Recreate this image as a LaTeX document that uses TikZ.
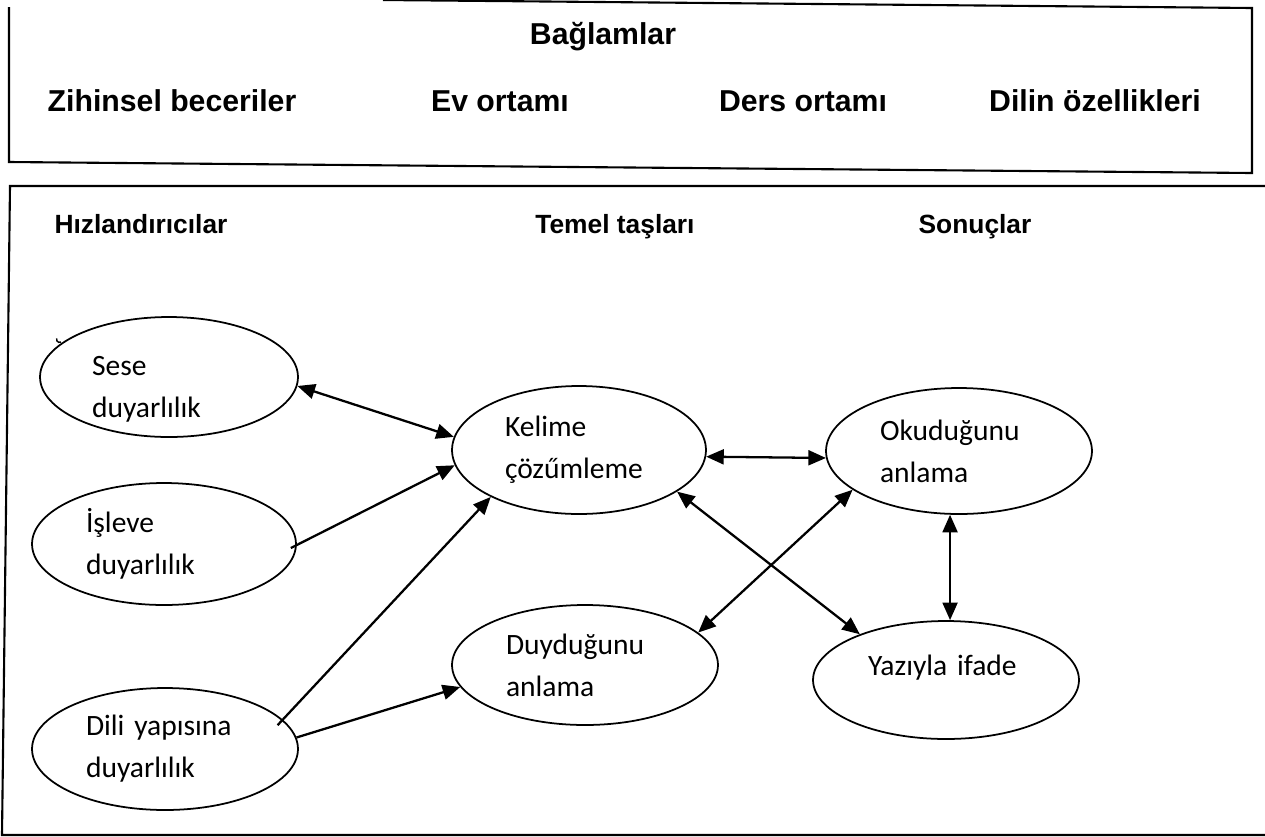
\documentclass[tikz,border=0pt]{standalone}
\usepackage{fontspec}
\setmainfont{Carlito}
\newfontfamily\headfont{Liberation Sans}
\usetikzlibrary{shapes.geometric,arrows.meta}

\begin{document}
\begin{tikzpicture}[x=0.02cm, y=-0.02cm,
  oval/.style={draw, ellipse, line width=1pt, inner sep=0pt, align=left,
    font=\fontsize{16.8}{23.8}\selectfont},
  head/.style={anchor=base, font=\headfont\bfseries\fontsize{17.2}{20}\selectfont},
  subhead/.style={anchor=base, font=\headfont\bfseries\fontsize{15}{18}\selectfont},
  arr/.style={-{Triangle[length=10pt,width=8.5pt]}, line width=1.3pt},
  darr/.style={{Triangle[length=10pt,width=8.5pt]}-{Triangle[length=10pt,width=8.5pt]}, line width=1.3pt}]
\useasboundingbox (0,0) rectangle (1265,836);

\draw[line width=1.2pt] (383,0) -- (1252,8) -- (1252,173) -- (9,162) -- (9,7);
\draw[line width=1.2pt] (1265,186) -- (10,186) -- (2,835) -- (1265,835);

\node (bag) at (603,44) [head] {Bağlamlar};
\node (zih) at (172,111) [head] {Zihinsel beceriler};
\node (ev) at (500,111) [head] {Ev ortamı};
\node (ders) at (803,111) [head] {Ders ortamı};
\node (dil) at (1095,111) [head] {Dilin özellikleri};

\node (hiz) at (141,233) [subhead] {Hızlandırıcılar};
\node (tem) at (615,233) [subhead] {Temel taşları};
\node (son) at (975,233) [subhead] {Sonuçlar};

\node (ses) at (169,377) [oval, minimum width=5.16cm, minimum height=2.4cm, text width=3.08cm,
  text height=20pt, text depth=22pt] {Sese\\duyarlılık};
\node (isl) at (164,544) [oval, minimum width=5.28cm, minimum height=2.44cm, text width=3.12cm] {İşleve\\duyarlılık};
\node (yap) at (165,749) [oval, minimum width=5.32cm, minimum height=2.44cm, text width=3.16cm] {Dili yapısına\\duyarlılık};
\node (kel) at (579,450) [oval, minimum width=5.08cm, minimum height=2.56cm, text width=2.96cm] {Kelime\\çözűmleme};
\node (duy) at (585,665) [oval, minimum width=5.32cm, minimum height=2.4cm, text width=3.16cm] {Duyduğunu\\anlama};
\node (oku) at (959,451) [oval, minimum width=5.32cm, minimum height=2.52cm, text width=3.16cm] {Okuduğunu\\anlama};
\node (yaz) at (946,680) [oval, minimum width=5.32cm, minimum height=2.36cm, text width=3.12cm,
  text height=11.5pt, text depth=16.5pt] {Yazıyla ifade};

\draw[line width=0.8pt] (61,342) arc (60:200:3);

\draw[darr] (ses.-4) -- (kel.174);
\draw[arr] ([shift={(-6,4)}]isl.east) -- (kel.187);
\draw[arr] ([shift={(-9,2)}]yap.12) -- (kel.208);
\draw[arr] (yap.5) -- (duy.190);
\draw[darr] (kel.-3) -- (oku.183);
\draw[darr] (kel.-23) -- (yaz.152);
\draw[darr] (duy.16) -- (oku.200);
\draw[darr] (oku.262) -- (oku.262 |- yaz.north);
\end{tikzpicture}
\end{document}
